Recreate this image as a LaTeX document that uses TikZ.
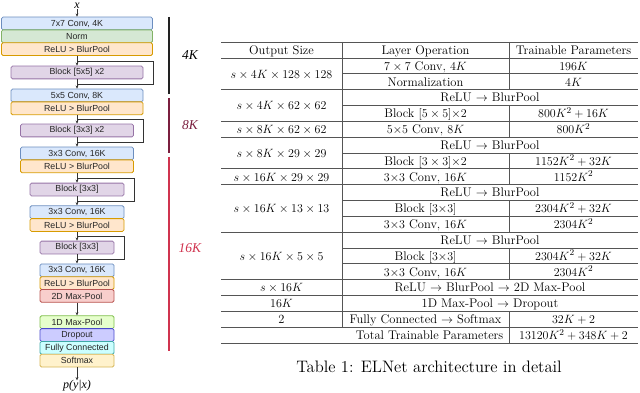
\documentclass[tikz,border=0pt]{standalone}
\usepackage{fontspec}
\usetikzlibrary{arrows.meta}
\newfontfamily\arialf{Liberation Sans}
\newfontfamily\timesf{Liberation Serif}
\newfontfamily\capfont{lmroman12-regular.otf}
\definecolor{convF}{HTML}{DAE8FC}\definecolor{convD}{HTML}{6C8EBF}
\definecolor{normF}{HTML}{D5E8D4}\definecolor{normD}{HTML}{82B366}
\definecolor{reluF}{HTML}{FFE6CC}\definecolor{reluD}{HTML}{D79B00}
\definecolor{blkF}{HTML}{E1D5E7}\definecolor{blkD}{HTML}{9673A6}
\definecolor{mpF}{HTML}{F8CECC}\definecolor{mpD}{HTML}{B85450}
\definecolor{mqF}{HTML}{E6FFCC}\definecolor{mqD}{HTML}{7FBF4A}
\definecolor{drF}{HTML}{CCCCFF}\definecolor{drD}{HTML}{4A4ACC}
\definecolor{fcF}{HTML}{CCFFFF}\definecolor{fcD}{HTML}{3FA8A8}
\definecolor{smF}{HTML}{FFF2CC}\definecolor{smD}{HTML}{D6B656}
\definecolor{barA}{HTML}{222222}
\definecolor{barB}{HTML}{7B1F3F}
\definecolor{barC}{HTML}{D0344F}
\definecolor{rule}{HTML}{555555}
\tikzset{
  lbox/.style={rounded corners=1.5pt, line width=0.8pt, minimum height=12.8pt, inner sep=0pt,
     font=\arialf\fontsize{8.8}{10}\selectfont, text=black!85},
  conv/.style={lbox, fill=convF, draw=convD},
  normb/.style={lbox, fill=normF, draw=normD},
  relu/.style={lbox, fill=reluF, draw=reluD},
  blk/.style={lbox, fill=blkF, draw=blkD},
  mpool/.style={lbox, fill=mpF, draw=mpD},
  mpoolb/.style={lbox, fill=mqF, draw=mqD},
  drop/.style={lbox, fill=drF, draw=drD},
  fcb/.style={lbox, fill=fcF, draw=fcD},
  smax/.style={lbox, fill=smF, draw=smD},
  flow/.style={draw=black!80, line width=0.7pt, -{Stealth[length=3.2pt,width=2.8pt]}},
  skip/.style={draw=black!80, line width=0.8pt},
  bar/.style={line width=2pt},
  klabel/.style={font=\timesf\itshape\fontsize{13.5}{15}\selectfont},
  tline/.style={draw=rule, line width=0.6pt},
  tcell/.style={anchor=base, inner sep=0pt, font=\fontsize{12.5}{15}\selectfont}
}
\begin{document}
\begin{tikzpicture}[x=1pt,y=-1pt]
\useasboundingbox (0,0) rectangle (640,393);
% ---------- left network ----------
\node[font=\timesf\itshape\fontsize{12}{13}\selectfont, inner sep=0pt] (xin) at (77,5.6) {x};
\node[conv, minimum width=151pt] (c1) at (77,23.5) {7x7 Conv, 4K};
\node[normb, minimum width=151pt] (n1) at (77,36.3) {Norm};
\node[relu, minimum width=151pt] (r1) at (77,49.1) {ReLU > BlurPool};
\node[blk, minimum width=132pt] (b1) at (77,72.5) {Block [5x5] x2};
\node[conv, minimum width=132pt] (c2) at (77,95.5) {5x5 Conv, 8K};
\node[relu, minimum width=132pt] (r2) at (77,108.3) {ReLU > BlurPool};
\node[blk, minimum width=113pt] (b2) at (77,130.5) {Block [3x3] x2};
\node[conv, minimum width=113pt] (c3) at (77,153.5) {3x3 Conv, 16K};
\node[relu, minimum width=113pt] (r3) at (77,166.3) {ReLU > BlurPool};
\node[blk, minimum width=94pt] (b3) at (77,189.5) {Block [3x3]};
\node[conv, minimum width=94pt] (c4) at (77,212.2) {3x3 Conv, 16K};
\node[relu, minimum width=94pt] (r4) at (77,225) {ReLU > BlurPool};
\node[blk, minimum width=74pt] (b4) at (77,247.5) {Block [3x3]};
\node[conv, minimum width=74pt] (c5) at (77,270.3) {3x3 Conv, 16K};
\node[relu, minimum width=74pt] (r5) at (77,283.1) {ReLU > BlurPool};
\node[mpool, minimum width=74pt] (m2) at (77,295.9) {2D Max-Pool};
\node[mpoolb, minimum width=74pt] (m1) at (77,322.2) {1D Max-Pool};
\node[drop, minimum width=74pt] (dr) at (77,335) {Dropout};
\node[fcb, minimum width=74pt] (fc) at (77,347.8) {Fully Connected};
\node[smax, minimum width=74pt] (sm) at (77,360.6) {Softmax};
\node[font=\timesf\itshape\fontsize{12}{13}\selectfont, inner sep=0pt] (py) at (77,386) {p(y|x)};

\draw[flow] ([yshift=-0.5pt]xin.south) -- (c1.north);
\draw[flow] (r1.south) -- (b1.north);
\draw[flow] (b1.south) -- (c2.north);
\draw[flow] (r2.south) -- (b2.north);
\draw[flow] (b2.south) -- (c3.north);
\draw[flow] (r3.south) -- (b3.north);
\draw[flow] (b3.south) -- (c4.north);
\draw[flow] (r4.south) -- (b4.north);
\draw[flow] (b4.south) -- (c5.north);
\draw[flow] (m2.south) -- (m1.north);
\draw[flow] (sm.south) -- (py.north);

% skip connections
\coordinate (k1a) at (77,61);  \coordinate (k1b) at (153,61);
\coordinate (k1c) at (153,84); \coordinate (k1d) at (77,84);
\draw[skip] (k1a) -- (k1b) -- (k1c) -- (k1d);
\coordinate (k2a) at (77,119); \coordinate (k2b) at (143,119);
\coordinate (k2c) at (143,142);\coordinate (k2d) at (77,142);
\draw[skip] (k2a) -- (k2b) -- (k2c) -- (k2d);
\coordinate (k3a) at (77,178); \coordinate (k3b) at (134,178);
\coordinate (k3c) at (134,201);\coordinate (k3d) at (77,201);
\draw[skip] (k3a) -- (k3b) -- (k3c) -- (k3d);
\coordinate (k4a) at (77,236); \coordinate (k4b) at (124,236);
\coordinate (k4c) at (124,259);\coordinate (k4d) at (77,259);
\draw[skip] (k4a) -- (k4b) -- (k4c) -- (k4d);

% width bars
\coordinate (ba1) at (169,17);  \coordinate (ba2) at (169,94);
\coordinate (bb1) at (169,98);  \coordinate (bb2) at (169,153);
\coordinate (bc1) at (169,157); \coordinate (bc2) at (169,351);
\draw[bar, draw=barA] (ba1) -- (ba2);
\draw[bar, draw=barB] (bb1) -- (bb2);
\draw[bar, draw=barC] (bc1) -- (bc2);
\node[klabel, text=black] (l4) at (190,55) {4K};
\node[klabel, text=barB] (l8) at (190,125) {8K};
\node[klabel, text=barC] (l16) at (190,248) {16K};

% ---------- table ----------
\def\TL{221}\def\TR{638}\def\VA{342}\def\VB{509}
\def\RH{15.842}
\foreach \i/\kind in {0/f,1/f,2/p,3/f,4/p,5/f,6/f,7/p,8/f,9/f,10/p,11/p,12/f,13/p,14/p,15/f,16/f,17/f,18/f,19/f}{
  \pgfmathsetmacro{\yy}{42+\i*\RH}
  \if\kind f
    \draw[tline] (\TL,\yy) -- (\TR,\yy);
  \else
    \draw[tline] (\VA,\yy) -- (\TR,\yy);
  \fi
}
\draw[tline] (\VA,42) -- (\VA,{42+18*\RH});
\foreach \a/\b in {0/3,4/6,7/9,10/12,13/15,17/19}{
  \draw[tline] (\VB,{42+\a*\RH}) -- (\VB,{42+\b*\RH});
}
\def\CA{281.5}\def\CB{425.5}\def\CC{573.5}\def\CS{490}
\newcommand{\ry}[1]{{42+(#1)*\RH+4.4}}
% header
\node[tcell] (h1) at (\CA,\ry{0.5}) {Output Size};
\node[tcell] (h2) at (\CB,\ry{0.5}) {Layer Operation};
\node[tcell] (h3) at (\CC,\ry{0.5}) {Trainable Parameters};
% rows
\node[tcell] (a1) at (\CA,\ry{2}) {$s\times 4K\times 128\times 128$};
\node[tcell] (o1) at (\CB,\ry{1.5}) {$7\times 7$ Conv, $4K$};
\node[tcell] (p1) at (\CC,\ry{1.5}) {$196K$};
\node[tcell] (o2) at (\CB,\ry{2.5}) {Normalization};
\node[tcell] (p2) at (\CC,\ry{2.5}) {$4K$};
\node[tcell] (a2) at (\CA,\ry{4}) {$s\times 4K\times 62\times 62$};
\node[tcell] (o3) at (\CS,\ry{3.5}) {ReLU $\rightarrow$ BlurPool};
\node[tcell] (o4) at (\CB,\ry{4.5}) {Block $[5\times 5]{\times}2$};
\node[tcell] (p4) at (\CC,\ry{4.5}) {$800K^2+16K$};
\node[tcell] (a3) at (\CA,\ry{5.5}) {$s\times 8K\times 62\times 62$};
\node[tcell] (o5) at (\CB,\ry{5.5}) {$5{\times}5$ Conv, $8K$};
\node[tcell] (p5) at (\CC,\ry{5.5}) {$800K^2$};
\node[tcell] (a4) at (\CA,\ry{7}) {$s\times 8K\times 29\times 29$};
\node[tcell] (o6) at (\CS,\ry{6.5}) {ReLU $\rightarrow$ BlurPool};
\node[tcell] (o7) at (\CB,\ry{7.5}) {Block $[3\times 3]{\times}2$};
\node[tcell] (p7) at (\CC,\ry{7.5}) {$1152K^2+32K$};
\node[tcell] (a5) at (\CA,\ry{8.5}) {$s\times 16K\times 29\times 29$};
\node[tcell] (o8) at (\CB,\ry{8.5}) {$3{\times}3$ Conv, $16K$};
\node[tcell] (p8) at (\CC,\ry{8.5}) {$1152K^2$};
\node[tcell] (a6) at (\CA,\ry{10.5}) {$s\times 16K\times 13\times 13$};
\node[tcell] (o9) at (\CS,\ry{9.5}) {ReLU $\rightarrow$ BlurPool};
\node[tcell] (o10) at (\CB,\ry{10.5}) {Block $[3{\times}3]$};
\node[tcell] (p10) at (\CC,\ry{10.5}) {$2304K^2+32K$};
\node[tcell] (o11) at (\CB,\ry{11.5}) {$3{\times}3$ Conv, $16K$};
\node[tcell] (p11) at (\CC,\ry{11.5}) {$2304K^2$};
\node[tcell] (a7) at (\CA,\ry{13.5}) {$s\times 16K\times 5\times 5$};
\node[tcell] (o12) at (\CS,\ry{12.5}) {ReLU $\rightarrow$ BlurPool};
\node[tcell] (o13) at (\CB,\ry{13.5}) {Block $[3{\times}3]$};
\node[tcell] (p13) at (\CC,\ry{13.5}) {$2304K^2+32K$};
\node[tcell] (o14) at (\CB,\ry{14.5}) {$3{\times}3$ Conv, $16K$};
\node[tcell] (p14) at (\CC,\ry{14.5}) {$2304K^2$};
\node[tcell] (a8) at (\CA,\ry{15.5}) {$s\times 16K$};
\node[tcell] (o15) at (\CS,\ry{15.5}) {ReLU $\rightarrow$ BlurPool $\rightarrow$ 2D Max-Pool};
\node[tcell] (a9) at (\CA,\ry{16.5}) {$16K$};
\node[tcell] (o16) at (\CS,\ry{16.5}) {1D Max-Pool $\rightarrow$ Dropout};
\node[tcell] (a10) at (\CA,\ry{17.5}) {2};
\node[tcell] (o17) at (\CB,\ry{17.5}) {Fully Connected $\rightarrow$ Softmax};
\node[tcell] (p17) at (\CC,\ry{17.5}) {$32K+2$};
\node[tcell, anchor=base east] (o18) at (503.5,\ry{18.5}) {Total Trainable Parameters};
\node[tcell] (p18) at (\CC,\ry{18.5}) {$13120K^2+348K+2$};
% caption
\node[anchor=base, inner sep=0pt, font=\capfont\fontsize{16.6}{19}\selectfont] (cap) at (429,372.5) {Table 1: ELNet architecture in detail};
\end{tikzpicture}
\end{document}
